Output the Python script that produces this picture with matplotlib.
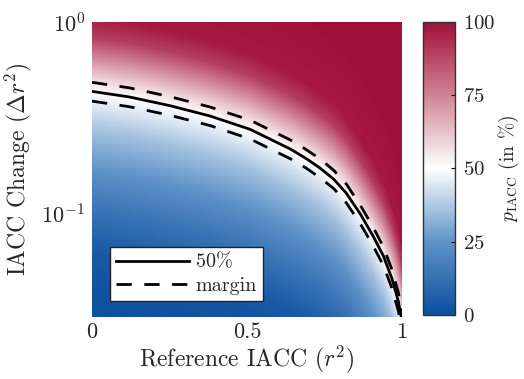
import numpy as np
import matplotlib
matplotlib.use("Agg")
import matplotlib.pyplot as plt
from matplotlib.colors import LinearSegmentedColormap

plt.rcParams['font.family'] = 'cmr10'
plt.rcParams['mathtext.fontset'] = 'cm'
plt.rcParams['axes.formatter.use_mathtext'] = True
plt.rcParams['axes.unicode_minus'] = False

# 50% threshold curve (reference IACC vs. IACC change)
ref_iacc = [0.0, 0.12, 0.25, 0.38, 0.51, 0.64, 0.69, 0.735, 0.78, 0.82, 0.865, 0.905, 0.94, 0.967, 0.988, 1.0]
thr_50 = [0.433, 0.405, 0.365, 0.322, 0.274, 0.216, 0.193, 0.172, 0.150, 0.127, 0.099, 0.0765, 0.0595, 0.0455, 0.0345, 0.027]
margin_hi = [0.483, 0.452, 0.407, 0.359, 0.306, 0.241, 0.215, 0.192, 0.167, 0.142, 0.110, 0.0853, 0.0663, 0.0507, 0.0385, 0.0301]
margin_lo = [0.385, 0.360, 0.325, 0.287, 0.244, 0.192, 0.172, 0.153, 0.134, 0.113, 0.088, 0.0681, 0.0530, 0.0405, 0.0307, 0.0240]

# probability profile across the threshold (decades from the 50% curve -> %)
prof_dist = [-1.2, -0.85, -0.62, -0.41, -0.2, 0.0, 0.08, 0.165, 0.29, 0.4, 0.8]
prof_p = [0, 4, 14, 25, 36, 50, 60, 72, 90, 98, 100]

ymin, ymax = 0.0285, 1.0
cb_ticks = [0, 25, 50, 75, 100]

cmap = LinearSegmentedColormap.from_list(
    'rwb', [(0.0, '#0b4f9f'), (0.25, '#5f93c8'), (0.5, '#ffffff'),
            (0.75, '#d08497'), (1.0, '#a1103a')])

txt = '#262626'

# build probability map
xg = np.linspace(0, 1, 400)
yg = np.logspace(np.log10(ymin), np.log10(ymax), 400)
X, Y = np.meshgrid(xg, yg)
logT = np.interp(X, ref_iacc, np.log10(thr_50))
P = np.interp(np.log10(Y) - logT, prof_dist, prof_p)

fig = plt.figure(figsize=(5.24, 3.79), dpi=100)
ax = fig.add_axes([0.1756, 0.1636, 0.5916, 0.7784])
cax = fig.add_axes([0.8075, 0.1689, 0.0611, 0.7731])

mesh = ax.pcolormesh(X, Y, P, cmap=cmap, vmin=0, vmax=100, shading='gouraud', rasterized=True)
ax.plot(ref_iacc, thr_50, color='k', lw=2.0, label='50%')
ax.plot(ref_iacc, margin_hi, color='k', lw=2.0, ls=(0, (5.5, 4.5)), label='margin')
ax.plot(ref_iacc, margin_lo, color='k', lw=2.0, ls=(0, (5.5, 4.5)))

ax.set_yscale('log')
ax.set_xlim(0, 1)
ax.set_ylim(ymin, ymax)
ax.set_xticks([0, 0.5, 1])
ax.set_xticklabels(['0', '0.5', '1'])
ax.tick_params(axis='both', which='both', direction='in', length=0, labelsize=16,
               labelcolor=txt)
ax.tick_params(axis='x', pad=4)
ax.tick_params(axis='y', pad=5)
ax.minorticks_off()
for s in ax.spines.values():
    s.set_visible(False)
ax.set_xlabel(r'Reference IACC ($r^2$)', fontsize=17, color=txt, labelpad=1)
ax.set_ylabel(r'IACC Change ($\Delta r^2$)', fontsize=17, color=txt, labelpad=5)

leg = ax.legend(loc='lower left', bbox_to_anchor=(0.058, 0.055), fontsize=14.5, frameon=True,
                fancybox=False, handlelength=3.6, borderpad=0.3, labelspacing=0.25,
                handletextpad=0.35, borderaxespad=0)
leg.get_frame().set_edgecolor('#222222')
leg.get_frame().set_linewidth(1.0)
leg.get_frame().set_alpha(1.0)
for t in leg.get_texts():
    t.set_color(txt)

cb = fig.colorbar(mesh, cax=cax, ticks=cb_ticks)
cb.outline.set_edgecolor('#333333')
cb.outline.set_linewidth(1.0)
cb.ax.tick_params(direction='in', length=3, labelsize=15, labelcolor=txt, pad=6)
cb.set_label(r'$p_{\mathrm{IACC}}$ (in %)', fontsize=14, color=txt, labelpad=1)

fig.savefig('out.png', dpi=100)
